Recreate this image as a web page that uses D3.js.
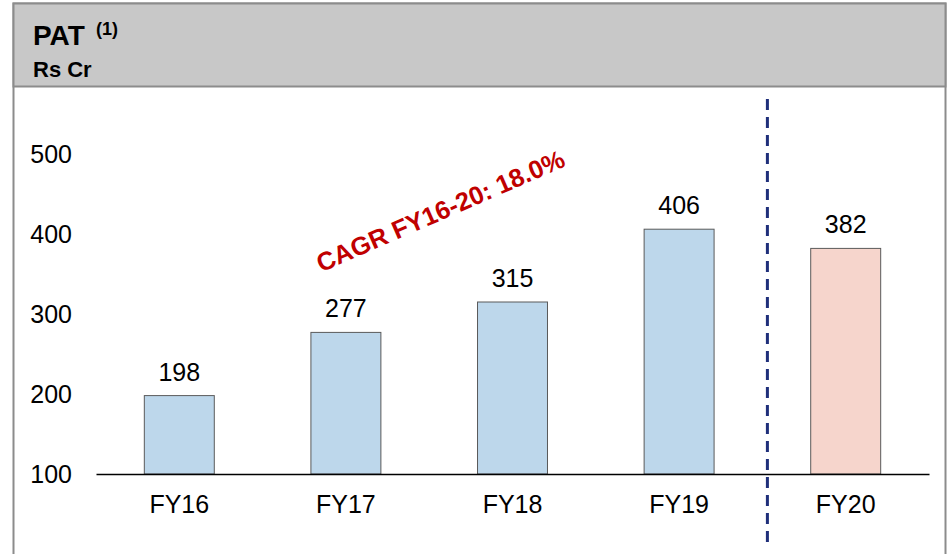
<!DOCTYPE html>
<html>
<head>
<meta charset="utf-8">
<script src="https://cdn.jsdelivr.net/npm/d3@7"></script>
<style>
  body { margin: 0; background: #fff; }
  text { font-family: "Liberation Sans", Arial, sans-serif; }
</style>
</head>
<body>
<div id="chart"></div>
<script>
var years = ["FY16", "FY17", "FY18", "FY19", "FY20"]
var pat = [198, 277, 315, 406, 382]
var yTicks = [100, 200, 300, 400, 500]
var cagrLabel = "CAGR FY16-20: 18.0%"

var W = 949, H = 554

var svg = d3.select("#chart").append("svg")
  .attr("width", W)
  .attr("height", H)

// frame + header
svg.append("rect")
  .attr("x", 13.5).attr("y", 3.5)
  .attr("width", 932).attr("height", 560)
  .attr("fill", "#fff")
  .attr("stroke", "#8c8c8c").attr("stroke-width", 2)
svg.append("rect")
  .attr("x", 13.5).attr("y", 3.5)
  .attr("width", 932).attr("height", 83)
  .attr("fill", "#c8c8c8")
  .attr("stroke", "#8c8c8c").attr("stroke-width", 2)

var title = svg.append("text")
  .attr("x", 33).attr("y", 45)
  .attr("font-size", 28).attr("font-weight", "bold")
  .attr("fill", "#000")
title.append("tspan").text("PAT")
title.append("tspan").text("(1)")
  .attr("x", 96)
  .attr("font-size", 18).attr("dy", -10.5)

svg.append("text")
  .attr("x", 33).attr("y", 77)
  .attr("font-size", 22).attr("font-weight", "bold")
  .text("Rs Cr")

var x = d3.scaleBand()
  .domain(years)
  .range([96, 929])
  .paddingInner(0.58)
  .paddingOuter(0.29)

var y = d3.scaleLinear()
  .domain([100, 500])
  .range([474, 154])

// y tick labels (no axis line)
svg.append("g")
  .attr("transform", "translate(80,0)")
  .call(d3.axisLeft(y).tickValues(yTicks).tickSize(0).tickPadding(8))
  .call(g => g.select(".domain").remove())
  .selectAll("text")
    .attr("font-size", 25)
    .attr("fill", "#000")
    .attr("font-family", "Liberation Sans, Arial, sans-serif")

// bars
svg.selectAll("rect.bar")
  .data(years)
  .enter().append("rect")
    .attr("class", "bar")
    .attr("x", d => x(d))
    .attr("width", x.bandwidth())
    .attr("y", (d, i) => y(pat[i]))
    .attr("height", (d, i) => y(100) - y(pat[i]))
    .attr("fill", d => d == "FY20" ? "#f6d5cc" : "#bdd7eb")
    .attr("stroke", "#5a5a5a")
    .attr("stroke-width", 1)

// value labels
svg.selectAll("text.val")
  .data(years)
  .enter().append("text")
    .attr("class", "val")
    .attr("x", d => x(d) + x.bandwidth() / 2)
    .attr("y", (d, i) => y(pat[i]) - 15)
    .attr("text-anchor", "middle")
    .attr("font-size", 25)
    .text((d, i) => pat[i])

// x axis
svg.append("g")
  .attr("transform", "translate(0," + y(100) + ")")
  .call(d3.axisBottom(x).tickSize(0).tickPadding(21))
  .call(g => g.select(".domain").attr("stroke", "#000").attr("stroke-width", 1.5))
  .selectAll("text")
    .attr("font-size", 25)
    .attr("fill", "#000")
    .attr("font-family", "Liberation Sans, Arial, sans-serif")

// dashed separator between FY19 and FY20
var sepX = (x("FY19") + x.bandwidth() + x("FY20")) / 2 + 5
svg.append("line")
  .attr("x1", sepX).attr("x2", sepX)
  .attr("y1", 99).attr("y2", 545)
  .attr("stroke", "#1f2f7a")
  .attr("stroke-width", 3)
  .attr("stroke-dasharray", "11,7")

// CAGR annotation
svg.append("text")
  .attr("transform", "translate(444,219) rotate(-23.5)")
  .attr("text-anchor", "middle")
  .attr("font-size", 25.5).attr("font-weight", "bold")
  .attr("fill", "#c00000")
  .text(cagrLabel)
</script>
</body>
</html>
